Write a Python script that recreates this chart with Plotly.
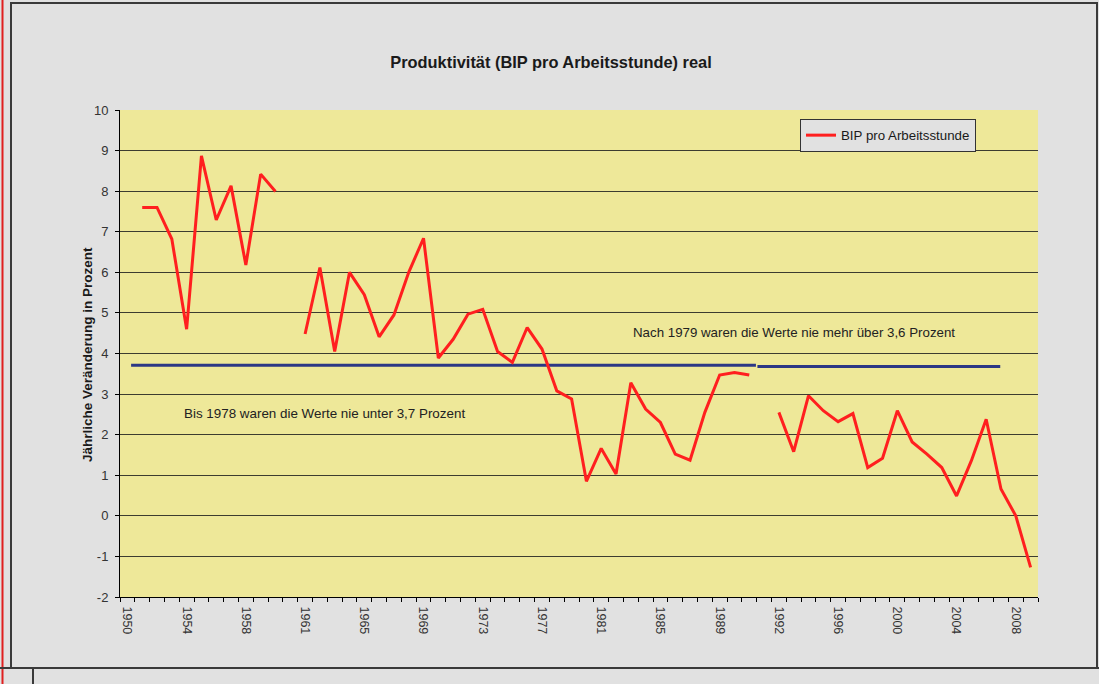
import plotly.graph_objects as go

# ---- data ----
years = ["1950", "1951", "1952", "1953", "1954", "1955", "1956", "1957", "1958", "1959", "1960",
         "1960", "1961", "1962", "1963", "1964", "1965", "1966", "1967", "1968", "1969", "1970",
         "1971", "1972", "1973", "1974", "1975", "1976", "1977", "1978", "1979", "1980", "1981",
         "1982", "1983", "1984", "1985", "1986", "1987", "1988", "1989", "1990", "1991", "1991",
         "1992", "1993", "1994", "1995", "1996", "1997", "1998", "1999", "2000", "2001", "2002",
         "2003", "2004", "2005", "2006", "2007", "2008", "2009"]

bip_pro_stunde = [None, 7.60, 7.60, 6.82, 4.60, 8.87, 7.29, 8.13, 6.18, 8.42, 7.99,
                  None, 4.48, 6.12, 4.05, 6.00, 5.45, 4.41, 4.95, 6.00, 6.84, 3.89,
                  4.35, 4.97, 5.09, 4.05, 3.78, 4.64, 4.11, 3.08, 2.88, 0.85, 1.66,
                  1.03, 3.28, 2.63, 2.30, 1.52, 1.37, 2.55, 3.47, 3.53, 3.47,
                  None, 2.55, 1.58, 2.96, 2.59, 2.32, 2.52, 1.19, 1.42, 2.59, 1.82,
                  1.52, 1.19, 0.49, 1.36, 2.38, 0.66, 0.00, -1.27]

# reference lines (category-index positions and values)
line_bis_1978_x = [0.25, 42.45]
line_bis_1978_y = [3.71, 3.71]
line_nach_1979_x = [42.55, 58.95]
line_nach_1979_y = [3.68, 3.68]

tick_index = list(range(0, 62, 4))
tick_labels = [years[i] for i in tick_index]
y_ticks = list(range(-2, 11))
y_tick_labels = [str(v) for v in y_ticks]

title_text = "Produktivität (BIP pro Arbeitsstunde) real"
y_title = "Jährliche Veränderung in Prozent"
series_name = "BIP pro Arbeitsstunde"
note_after = "Nach 1979 waren die Werte nie mehr über 3,6 Prozent"
note_before = "Bis 1978 waren die Werte nie unter 3,7 Prozent"

# ---- layout geometry ----
W, H = 1099, 684
L, R, T, B = 120, 1038, 110, 597
pw, ph = R - L, B - T


def px(xp):
    return (xp - L) / pw


def py(yp):
    return (B - yp) / ph


FONT = "Liberation Sans, Arial, sans-serif"
idx = list(range(len(years)))

fig = go.Figure()
fig.add_trace(go.Scatter(x=line_bis_1978_x, y=line_bis_1978_y, mode="lines",
                         line=dict(color="#2b3785", width=3), showlegend=False,
                         hoverinfo="skip"))
fig.add_trace(go.Scatter(x=line_nach_1979_x, y=line_nach_1979_y, mode="lines",
                         line=dict(color="#2b3785", width=3), showlegend=False,
                         hoverinfo="skip"))
fig.add_trace(go.Scatter(x=idx, y=bip_pro_stunde, mode="lines", name=series_name,
                         connectgaps=False,
                         line=dict(color="#ff1f1f", width=3)))

shapes = [
    # outer dark frame
    dict(type="rect", xref="paper", yref="paper",
         x0=px(11), x1=px(1097), y0=py(668), y1=py(3),
         line=dict(color="#3a3a3a", width=2), fillcolor="rgba(0,0,0,0)", layer="below"),
    # red left edge
    dict(type="line", xref="paper", yref="paper",
         x0=px(2.5), x1=px(2.5), y0=py(684), y1=py(0),
         line=dict(color="#e02020", width=2)),
    # bottom full-width line
    dict(type="line", xref="paper", yref="paper",
         x0=px(0), x1=px(1099), y0=py(668), y1=py(668),
         line=dict(color="#3a3a3a", width=2)),
    # small line below frame
    dict(type="line", xref="paper", yref="paper",
         x0=px(33), x1=px(33), y0=py(684), y1=py(668),
         line=dict(color="#3a3a3a", width=2)),
]

fig.update_layout(
    width=W, height=H,
    margin=dict(l=L, r=W - R, t=T, b=H - B),
    paper_bgcolor="#e1e1e1",
    plot_bgcolor="#eee899",
    font=dict(family=FONT, size=12, color="#333333"),
    title=dict(text="<b>" + title_text + "</b>", xref="container", x=551 / W,
               yref="container", y=1 - 62 / H,
               xanchor="center", yanchor="middle",
               font=dict(family=FONT, size=16.4, color="#1a1a1a")),
    showlegend=True,
    legend=dict(x=px(976), y=py(119), xanchor="right", yanchor="top",
                bgcolor="#e1e1e1", bordercolor="#333333", borderwidth=1,
                font=dict(family=FONT, size=13.3, color="#1a1a1a"),
                itemwidth=30, tracegroupgap=0),
    shapes=shapes,
    annotations=[
        dict(text=note_after, x=34.0, y=4.51, xref="x", yref="y",
             xanchor="left", yanchor="middle", showarrow=False,
             font=dict(family=FONT, size=13.3, color="#222222")),
        dict(text=note_before, x=3.67, y=2.52, xref="x", yref="y",
             xanchor="left", yanchor="middle", showarrow=False,
             font=dict(family=FONT, size=13.4, color="#222222")),
        dict(text="<b>" + y_title + "</b>", x=px(87), y=py(355), xref="paper", yref="paper",
             textangle=-90, xanchor="center", yanchor="middle", showarrow=False,
             font=dict(family=FONT, size=13.5, color="#1a1a1a")),
    ],
)

fig.update_xaxes(
    range=[-0.5, len(years) - 0.5],
    tickmode="array", tickvals=tick_index, ticktext=tick_labels,
    tickangle=90, ticks="", showgrid=False, zeroline=False,
    showline=True, linecolor="#000000", linewidth=1,
    tickfont=dict(family=FONT, size=12.5, color="#333333"),
    ticklabelstandoff=6,
    minor=dict(tick0=-0.5, dtick=1, ticks="outside", ticklen=4,
               tickcolor="#000000", tickwidth=1, showgrid=False),
    fixedrange=True,
)
fig.update_yaxes(
    range=[-2, 10], tickmode="array", tickvals=y_ticks, ticktext=y_tick_labels,
    ticks="outside", ticklen=4, tickcolor="#000000",
    showgrid=True, gridcolor="#3c3c30", gridwidth=1.2,
    zeroline=False, showline=True, linecolor="#000000", linewidth=1,
    tickfont=dict(family=FONT, size=13, color="#333333"),
    ticklabelstandoff=4,
    fixedrange=True,
)

fig.write_html("out.html", config={"displayModeBar": False},
               post_script="document.body.style.margin='0px';")
